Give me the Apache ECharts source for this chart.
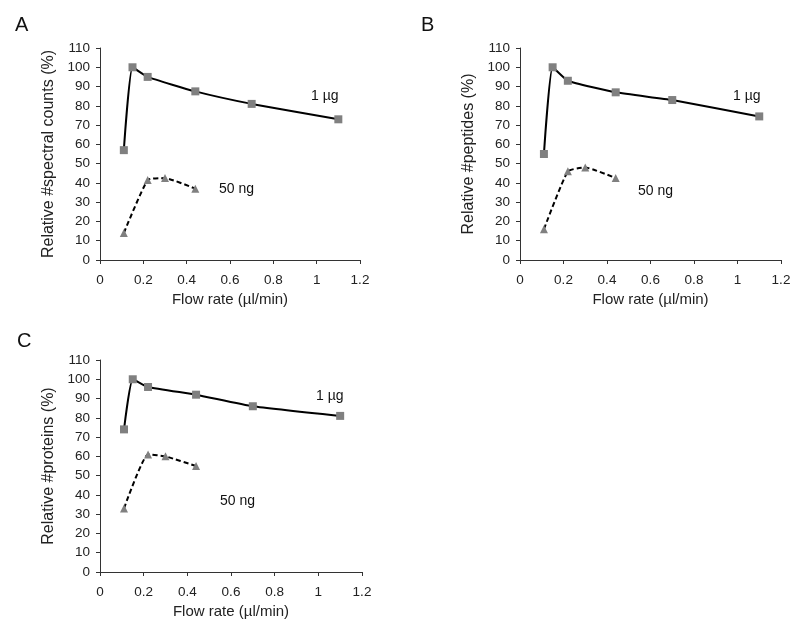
<!DOCTYPE html>
<html><head><meta charset="utf-8">
<script src="https://cdn.jsdelivr.net/npm/echarts@6/dist/echarts.min.js"></script>
<style>html,body{margin:0;padding:0;background:#fff}#c{width:800px;height:630px}</style>
</head><body><div id="c"></div>
<script>
const xHigh = [0.11, 0.15, 0.22, 0.44, 0.70, 1.10];
const xLow = [0.11, 0.22, 0.30, 0.44];
const spectralHigh = [57, 100, 95, 87.5, 81, 73];
const spectralLow = [14, 41.5, 42.5, 37];
const peptidesHigh = [55, 100, 93, 87, 83, 74.5];
const peptidesLow = [16, 46, 48, 42.5];
const proteinsHigh = [74, 100, 96, 92, 86, 81];
const proteinsLow = [33, 61, 60, 55];
const panelLetters = ['A', 'B', 'C'];
const yTitles = ['Relative #spectral counts (%)', 'Relative #peptides (%)', 'Relative #proteins (%)'];
const xTitle = 'Flow rate (µl/min)';
const labelHigh = '1 µg';
const labelLow = '50 ng';

const font = 'Liberation Sans, Arial, sans-serif';
const axisColor = '#333';
const grids = [
  {left: 100, top: 48, width: 260, height: 212},
  {left: 520, top: 48, width: 261, height: 212},
  {left: 100, top: 360, width: 262, height: 212}
];
const highSets = [spectralHigh, peptidesHigh, proteinsHigh];
const lowSets = [spectralLow, peptidesLow, proteinsLow];
const pair = (xs, ys) => xs.map((x, i) => [x, ys[i]]);

const xAxes = grids.map((g, i) => ({
  gridIndex: i, type: 'value', min: 0, max: 1.2, interval: 0.2,
  name: xTitle, nameLocation: 'middle', nameGap: 32,
  nameTextStyle: {fontFamily: font, fontSize: 15, color: '#222'},
  axisLine: {lineStyle: {color: axisColor, width: 1}},
  axisTick: {show: true, inside: false, length: 4, lineStyle: {color: axisColor}},
  axisLabel: {fontFamily: font, fontSize: 13.5, color: '#222', margin: 13, formatter: v => String(+v.toFixed(1))},
  splitLine: {show: false}
}));
const yAxes = grids.map((g, i) => ({
  gridIndex: i, type: 'value', min: 0, max: 110, interval: 10,
  name: yTitles[i], nameLocation: 'middle', nameGap: 43, nameRotate: 90,
  nameTextStyle: {fontFamily: font, fontSize: 16, color: '#222'},
  axisLine: {show: true, lineStyle: {color: axisColor, width: 1}},
  axisTick: {show: true, inside: false, length: 4, lineStyle: {color: axisColor}},
  axisLabel: {fontFamily: font, fontSize: 13.5, color: '#222', margin: 10},
  splitLine: {show: false}
}));
const series = [];
grids.forEach((g, i) => {
  series.push({
    type: 'line', xAxisIndex: i, yAxisIndex: i, data: pair(xHigh, highSets[i]),
    smooth: 0.15, symbol: 'rect', symbolSize: 8,
    itemStyle: {color: '#808080'}, lineStyle: {color: '#000', width: 2, type: 'solid'}
  });
  series.push({
    type: 'line', xAxisIndex: i, yAxisIndex: i, data: pair(xLow, lowSets[i]),
    smooth: 0.15, symbol: 'triangle', symbolSize: 8,
    itemStyle: {color: '#808080'}, lineStyle: {color: '#000', width: 2, type: [5, 3]}
  });
});
const txt = (x, y, s, size) => ({type: 'text', left: x, top: y, style: {text: s, font: size + 'px ' + font, fill: '#111'}});
const graphic = [
  txt(15, 15, panelLetters[0], 20), txt(421, 15, panelLetters[1], 20), txt(17, 331, panelLetters[2], 20),
  txt(311, 89, labelHigh, 14), txt(219, 182, labelLow, 14),
  txt(733, 89, labelHigh, 14), txt(638, 184, labelLow, 14),
  txt(316, 389, labelHigh, 14), txt(220, 494, labelLow, 14)
];
const chart = echarts.init(document.getElementById('c'), null, {renderer: 'canvas'});
chart.setOption({
  animation: false, backgroundColor: '#fff',
  grid: grids.map(g => Object.assign({containLabel: false}, g)),
  xAxis: xAxes, yAxis: yAxes, series, graphic
});
</script></body></html>
